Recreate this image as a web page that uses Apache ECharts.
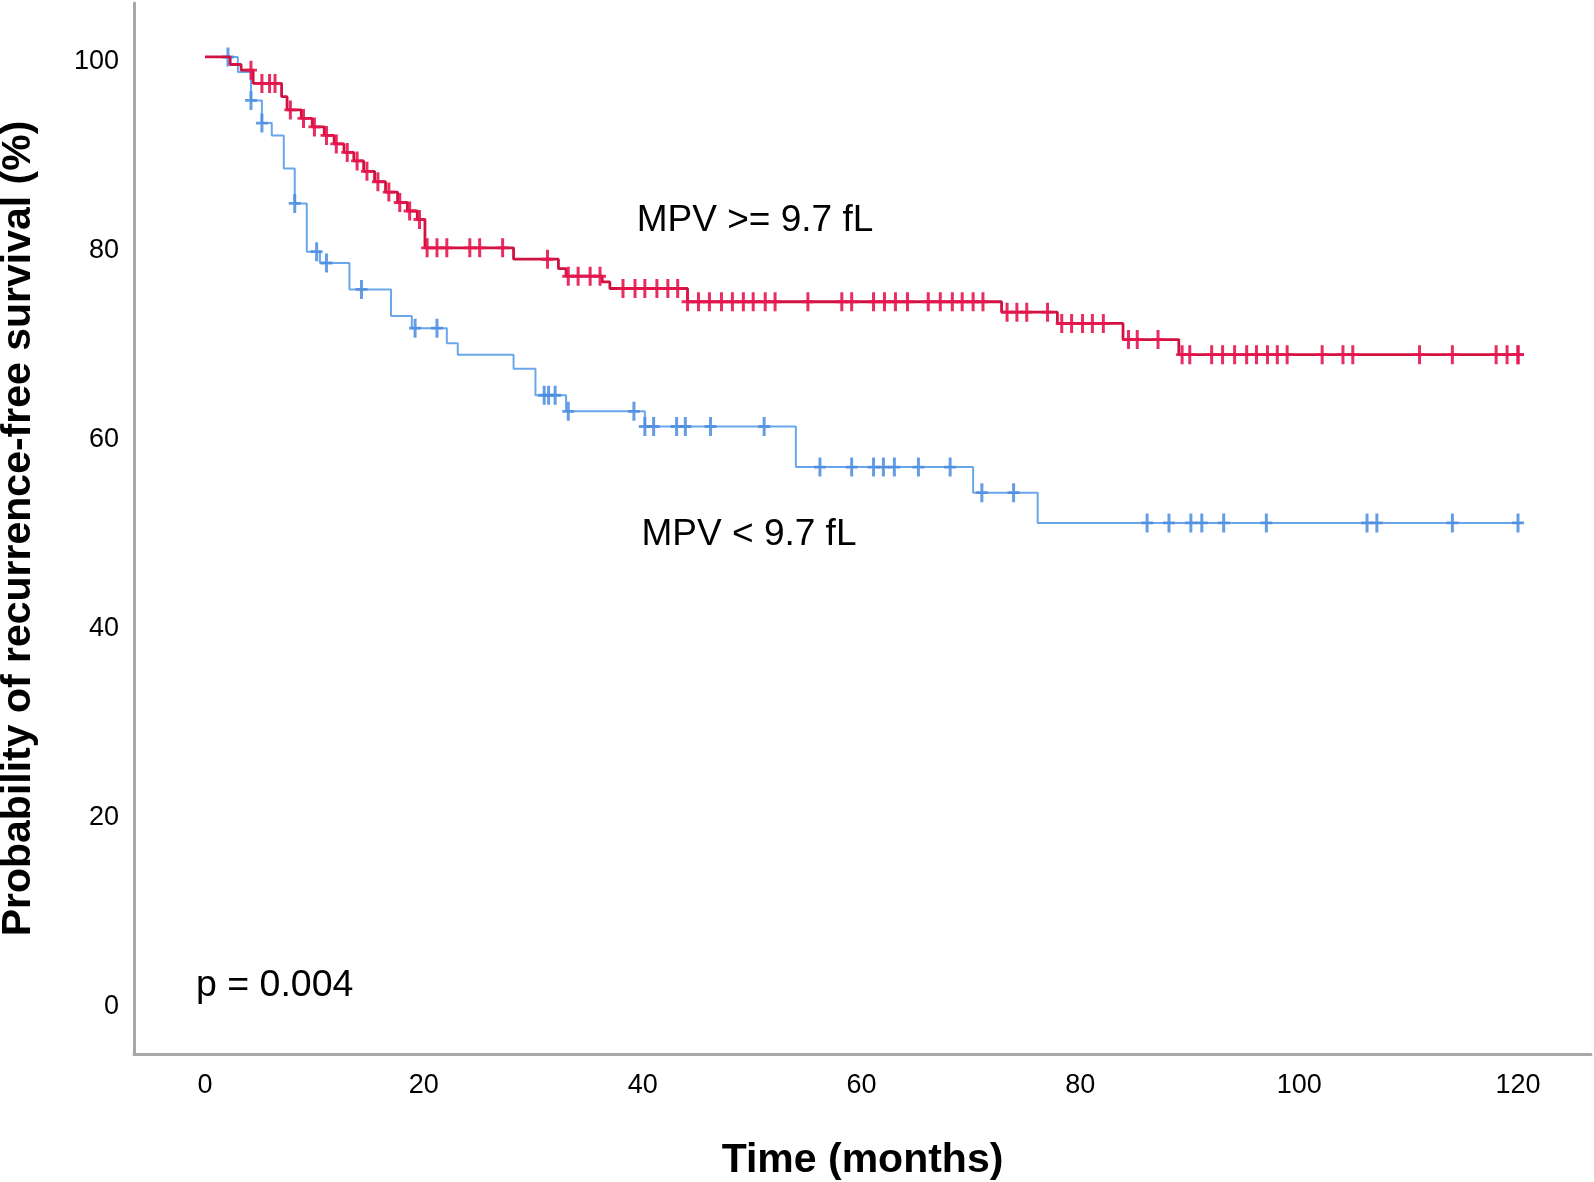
<!DOCTYPE html>
<html>
<head>
<meta charset="utf-8">
<script src="https://cdn.jsdelivr.net/npm/echarts@6/dist/echarts.min.js"></script>
<style>
html,body{margin:0;padding:0;background:#fff;}
#chart{width:1594px;height:1182px;}
</style>
</head>
<body>
<div id="chart"></div>
<script>
// ---- Data ----
// Group MPV >= 9.7 fL (red): step times (months) and survival (%) after each step
var redTimes = [0, 2.3, 3.3, 4.4, 7.0, 7.5, 8.8, 9.8, 10.9, 11.8, 12.7, 13.6, 14.5, 15.5, 16.5, 17.6, 18.5, 19.4, 20.1, 28.2, 32.3, 33.0, 36.3, 37.0, 44.1, 72.8, 77.9, 83.9, 89.0, 120.3];
var redSurv  = [100, 99.2, 98.6, 97.2, 95.8, 94.4, 93.5, 92.6, 91.7, 90.8, 89.9, 89.0, 87.9, 86.8, 85.7, 84.6, 83.7, 82.8, 79.8, 78.6, 77.6, 76.8, 76.2, 75.5, 74.1, 73.0, 71.8, 70.1, 68.5, 68.5];
var redCensor = [4.2, 5.2, 5.9, 6.4, 7.8, 9.0, 10.0, 11.1, 12.0, 13.0, 13.9, 14.8, 15.8, 16.8, 17.8, 18.7, 19.6,
  20.3, 21.2, 22.1, 24.2, 25.1, 27.2, 31.3, 33.2, 34.1, 35.2, 36.1, 38.2, 39.3, 40.2, 41.3, 42.3, 43.2,
  44.1, 45.1, 46.1, 47.2, 48.2, 49.2, 50.1, 51.2, 52.1, 55.1, 58.2, 59.1, 61.1, 62.1, 63.1, 64.2, 66.1, 67.2,
  68.3, 69.2, 70.2, 71.1, 73.3, 74.2, 75.1, 77.0, 78.3, 79.2, 80.2, 81.1, 82.1, 84.4, 85.2, 87.1,
  89.3, 90.0, 92.0, 93.0, 94.1, 95.2, 96.1, 97.1, 98.0, 98.9, 102.1, 104.0, 104.9, 111.0, 114.0, 118.0, 119.0, 120.0, 120.0];

// Group MPV < 9.7 fL (blue)
var blueTimes = [0, 3.0, 4.2, 5.2, 6.1, 7.2, 8.2, 9.3, 10.5, 13.2, 17.0, 18.9, 22.1, 23.1, 28.2, 30.2, 33.0, 40.2, 54.0, 70.2, 76.1, 120.3];
var blueSurv  = [100, 98.4, 95.4, 93.0, 91.7, 88.2, 84.5, 79.4, 78.2, 75.4, 72.6, 71.3, 69.7, 68.5, 67.0, 64.2, 62.5, 60.9, 56.6, 53.9, 50.7, 50.7];
var blueCensor = [2.1, 4.2, 5.2, 8.2, 10.2, 11.1, 14.3, 19.2, 21.2, 31.0, 31.4, 32.0, 33.2, 39.2, 40.2, 41.0, 43.1, 43.9, 46.2, 51.1,
  56.2, 59.1, 61.1, 62.0, 63.0, 65.2, 68.1, 71.0, 73.9, 86.1, 88.1, 90.1, 91.1, 93.1, 97.0, 106.2, 107.1, 114.0, 120.0];

var xTicks = [0, 20, 40, 60, 80, 100, 120];
var yTicks = [0, 20, 40, 60, 80, 100];

var labelHigh = 'MPV >= 9.7 fL';
var labelLow = 'MPV < 9.7 fL';
var pText = 'p = 0.004';
var xTitle = 'Time (months)';
var yTitle = 'Probability of recurrence-free survival (%)';

// ---- helpers ----
function pairs(ts, ss) { return ts.map(function (t, i) { return [t, ss[i]]; }); }
function survAt(ts, ss, t) {
  var v = ss[0];
  for (var i = 0; i < ts.length; i++) { if (ts[i] <= t) v = ss[i]; }
  return v;
}
function censorPts(cs, ts, ss) { return cs.map(function (t) { return [t, survAt(ts, ss, t)]; }); }

var crossPath = 'path://M4.5,0 H7.5 V8.5 H12 V11.5 H7.5 V20 H4.5 V11.5 H0 V8.5 H4.5 Z';
var FONT = '"Liberation Sans", Arial, sans-serif';

var chart = echarts.init(document.getElementById('chart'), null, { renderer: 'canvas' });
chart.setOption({
  animation: false,
  backgroundColor: '#ffffff',
  grid: { left: 134, right: 3, top: 3, bottom: 128, containLabel: false, outerBoundsMode: 'none' },
  xAxis: {
    type: 'value', min: -6.49, max: 126.67,
    name: xTitle, nameLocation: 'middle', nameGap: 86,
    nameTextStyle: { fontFamily: FONT, fontWeight: 'bold', fontSize: 41, color: '#000' },
    axisLine: { show: true, onZero: false, lineStyle: { color: '#a8a8a8', width: 3 } },
    axisTick: { show: false },
    splitLine: { show: false },
    axisLabel: { customValues: xTicks, fontFamily: FONT, fontSize: 27, color: '#000', margin: 18 }
  },
  yAxis: {
    type: 'value', min: -5.50, max: 105.71,
    name: yTitle, nameLocation: 'middle', nameGap: 95, nameRotate: 90,
    nameTextStyle: { fontFamily: FONT, fontWeight: 'bold', fontSize: 41, color: '#000' },
    axisLine: { show: true, onZero: false, lineStyle: { color: '#a8a8a8', width: 3 } },
    axisTick: { show: false },
    splitLine: { show: false },
    axisLabel: {
      customValues: yTicks, margin: 15,
      formatter: function (v) { return '{t|' + v + '}'; },
      rich: { t: { fontFamily: FONT, fontSize: 27, color: '#000', lineHeight: 30, padding: [10, 0, 0, 0] } }
    }
  },
  series: [
    {
      type: 'line', step: 'end', symbol: 'none', data: pairs(blueTimes, blueSurv),
      lineStyle: { color: '#6aa6ea', width: 2 }, z: 2
    },
    {
      type: 'scatter', data: censorPts(blueCensor, blueTimes, blueSurv),
      symbol: crossPath, symbolSize: [12, 19],
      itemStyle: { color: '#4a8ce0', opacity: 0.85 }, z: 3
    },
    {
      type: 'line', step: 'end', symbol: 'none', data: pairs(redTimes, redSurv),
      lineStyle: { color: '#cf1240', width: 2.8 }, z: 4
    },
    {
      type: 'scatter', data: censorPts(redCensor, redTimes, redSurv),
      symbol: crossPath, symbolSize: [12, 19],
      itemStyle: { color: '#e5164f', opacity: 0.9 }, z: 5
    }
  ],
  graphic: [
    { type: 'text', x: 755, y: 221, style: { text: labelHigh, font: '37px ' + FONT, fill: '#000', textAlign: 'center', textVerticalAlign: 'middle' } },
    { type: 'text', x: 749, y: 535, style: { text: labelLow, font: '37px ' + FONT, fill: '#000', textAlign: 'center', textVerticalAlign: 'middle' } },
    { type: 'text', x: 196, y: 986, style: { text: pText, font: '37.5px ' + FONT, fill: '#000', textAlign: 'left', textVerticalAlign: 'middle' } }
  ]
});
</script>
</body>
</html>
